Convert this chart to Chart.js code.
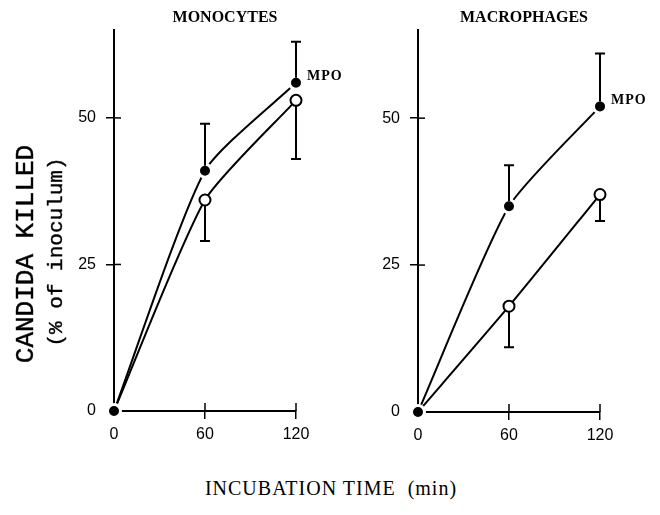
<!DOCTYPE html>
<html>
<head>
<meta charset="utf-8">
<script src="https://cdn.jsdelivr.net/npm/chart.js@4/dist/chart.umd.min.js"></script>
<style>
  body { margin: 0; background: #fff; width: 660px; height: 515px; position: relative; overflow: hidden; }
  .panel { position: absolute; top: 0; height: 460px; }
  .lbl { position: absolute; color: #000; white-space: pre; transform: translate(-50%, -50%); }
  .ttl { font: bold 16px "Liberation Serif", serif; top: 17px; }
  .ytl { font-family: "Liberation Mono", monospace; -webkit-text-stroke: 0.4px #000; transform: translate(-50%, -50%) rotate(-90deg); }
</style>
</head>
<body>
<div class="panel" style="left:0; width:360px"><canvas id="monoChart" width="360" height="460"></canvas></div>
<div class="panel" style="left:330px; width:330px"><canvas id="macroChart" width="330" height="460"></canvas></div>

<div class="lbl ttl" style="left:225px">MONOCYTES</div>
<div class="lbl ttl" style="left:524px">MACROPHAGES</div>
<div class="lbl ytl" style="left:26px; top:254px; font-size:26px">CANDIDA KILLED</div>
<div class="lbl ytl" style="left:56px; top:252px; font-size:21px">(% of inoculum)</div>
<div class="lbl" style="left:331px; top:488px; font:20px 'Liberation Serif', serif; letter-spacing:1px">INCUBATION TIME  (min)</div>

<script>
// temps d'incubation (min) et graduations
const times = [0, 60, 120];
const yTicks = [0, 25, 50];

// monocytes
const monoMpo = [0, 41, 56];
const monoMpoErr = [null, 49, 63];
const monoCtrl = [0, 36, 53];
const monoCtrlErr = [null, 29, 43];

// macrophages
const macroMpo = [0, 35, 52];
const macroMpoErr = [null, 42, 61];
const macroCtrl = [0, 18, 37];
const macroCtrlErr = [null, 11, 32.5];

const tickFont = { family: "Liberation Sans", size: 16 };

// barres d'erreur, petites graduations vers l'intérieur et étiquette MPO
const extras = {
    id: 'extras',
    afterDatasetsDraw(chart, args, opts) {
        const { ctx } = chart;
        const x = chart.scales.x, y = chart.scales.y;
        ctx.save();
        ctx.strokeStyle = '#000';
        ctx.lineWidth = 2;
        opts.errors.forEach(([vals, errs]) => {
            times.forEach((t, i) => {
                if (errs[i] == null) return;
                const px = x.getPixelForValue(t);
                const p1 = y.getPixelForValue(vals[i]);
                const p2 = y.getPixelForValue(errs[i]);
                const dir = p2 < p1 ? -1 : 1;
                ctx.beginPath();
                ctx.moveTo(px, p1 + dir * 5);
                ctx.lineTo(px, p2);
                ctx.moveTo(px - 5, p2);
                ctx.lineTo(px + 5, p2);
                ctx.stroke();
            });
        });

        // graduations qui traversent les axes
        ctx.lineWidth = 1.5;
        yTicks.forEach(v => {
            if (v === 0) return;
            const py = y.getPixelForValue(v);
            ctx.beginPath();
            ctx.moveTo(x.left, py);
            ctx.lineTo(x.left + 7, py);
            ctx.stroke();
        });
        times.forEach(v => {
            if (v === 0) return;
            const px = x.getPixelForValue(v);
            ctx.beginPath();
            ctx.moveTo(px, y.bottom);
            ctx.lineTo(px, y.bottom - 8);
            ctx.stroke();
        });

        // MPO
        const last = times.length - 1;
        ctx.fillStyle = '#000';
        ctx.font = 'bold 14px "Liberation Serif", serif';
        ctx.letterSpacing = '1px';
        ctx.textBaseline = 'middle';
        ctx.fillText('MPO', x.getPixelForValue(times[last]) + 11, y.getPixelForValue(opts.mpo[last]) - 6);
        ctx.restore();
    }
};

function makePanel(id, mpo, mpoErr, ctrl, ctrlErr, box) {
    const canvas = document.getElementById(id);
    if (!canvas) return;
    new Chart(canvas.getContext('2d'), {
        type: 'line',
        data: {
            datasets: [
                {
                    label: 'MPO',
                    data: times.map((t, i) => ({ x: t, y: mpo[i] })),
                    borderColor: '#000',
                    borderWidth: 2,
                    tension: 0.2,
                    pointRadius: 6.5,
                    pointBorderWidth: 3,
                    pointBackgroundColor: '#000',
                    pointBorderColor: '#fff',
                    clip: false
                },
                {
                    label: 'control',
                    data: times.map((t, i) => ({ x: t, y: ctrl[i] })),
                    borderColor: '#000',
                    borderWidth: 2,
                    tension: 0.2,
                    pointRadius: 5.5,
                    pointBorderWidth: 2,
                    pointBackgroundColor: '#fff',
                    pointBorderColor: '#000',
                    clip: false
                }
            ]
        },
        options: {
            responsive: false,
            animation: false,
            layout: { padding: { top: 30, right: box.right, left: 0, bottom: 0 } },
            scales: {
                x: {
                    type: 'linear',
                    min: 0,
                    max: 120,
                    afterBuildTicks: s => { s.ticks = times.map(v => ({ value: v })); },
                    afterFit: s => { s.height = box.bottom; },
                    ticks: { font: tickFont, color: '#000', padding: 6 },
                    grid: {
                        drawOnChartArea: false,
                        tickLength: 8,
                        lineWidth: 1.5,
                        color: c => c.tick && c.tick.value === 0 ? 'rgba(0,0,0,0)' : '#000'
                    },
                    border: { color: '#000', width: 2 }
                },
                y: {
                    min: 0,
                    max: 65,
                    afterBuildTicks: s => { s.ticks = yTicks.map(v => ({ value: v })); },
                    afterFit: s => { s.width = box.left; },
                    ticks: { font: tickFont, color: '#000', padding: 10 },
                    grid: {
                        drawOnChartArea: false,
                        tickLength: 8,
                        lineWidth: 1.5,
                        color: c => c.tick && c.tick.value === 0 ? 'rgba(0,0,0,0)' : '#000'
                    },
                    border: { color: '#000', width: 2 }
                }
            },
            plugins: {
                legend: { display: false },
                tooltip: { enabled: false },
                extras: { errors: [[mpo, mpoErr], [ctrl, ctrlErr]], mpo: mpo }
            }
        },
        plugins: [extras]
    });
}

makePanel('monoChart', monoMpo, monoMpoErr, monoCtrl, monoCtrlErr, { left: 114, right: 64, bottom: 49 });
makePanel('macroChart', macroMpo, macroMpoErr, macroCtrl, macroCtrlErr, { left: 88, right: 60, bottom: 48 });
</script>
</body>
</html>
